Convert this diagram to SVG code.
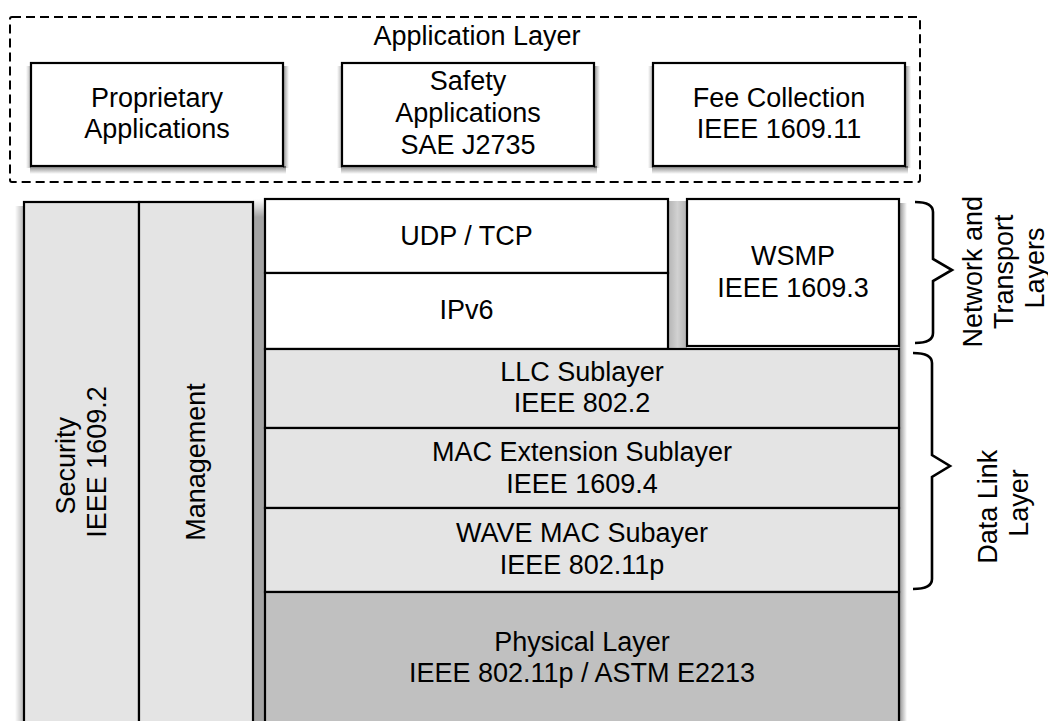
<svg xmlns="http://www.w3.org/2000/svg" width="1048" height="721" viewBox="0 0 1048 721">
  <style>
    .box { stroke: #000; stroke-width: 2.2; }
    .white { fill: #ffffff; }
    .light { fill: #e4e4e4; }
    .dark { fill: #c0c0c0; }
    .lbl { font-family: "Liberation Sans", Arial, Helvetica, sans-serif; font-size: 27px; fill: #000; text-anchor: middle; }
    .brace { fill: none; stroke: #000; stroke-width: 2.6; stroke-linejoin: miter; }
  </style>
  <defs>
    <!-- shadow ramps -->
    <linearGradient id="fadeL" x1="0" y1="0" x2="1" y2="0">
      <stop offset="0" stop-color="#000" stop-opacity="0"/>
      <stop offset="1" stop-color="#000" stop-opacity="0.3"/>
    </linearGradient>
    <linearGradient id="fadeR" x1="0" y1="0" x2="1" y2="0">
      <stop offset="0" stop-color="#000" stop-opacity="0.45"/>
      <stop offset="1" stop-color="#000" stop-opacity="0"/>
    </linearGradient>
    <linearGradient id="fadeD" x1="0" y1="0" x2="0" y2="1">
      <stop offset="0" stop-color="#000" stop-opacity="0.5"/>
      <stop offset="1" stop-color="#000" stop-opacity="0"/>
    </linearGradient>
    <linearGradient id="gapTop" x1="0" y1="0" x2="0" y2="1">
      <stop offset="0" stop-color="#000" stop-opacity="0"/>
      <stop offset="1" stop-color="#000" stop-opacity="0.36"/>
    </linearGradient>
    <linearGradient id="gapMid" x1="0" y1="0" x2="1" y2="0">
      <stop offset="0" stop-color="#000" stop-opacity="0.3"/>
      <stop offset="0.5" stop-color="#000" stop-opacity="0.18"/>
      <stop offset="1" stop-color="#000" stop-opacity="0.3"/>
    </linearGradient>
  </defs>

  <rect width="1048" height="721" fill="#ffffff"/>

  <!-- drop shadows under the boxes -->
  <g id="shadows">
    <rect x="30" y="166" width="256" height="8" fill="url(#fadeD)"/>
    <rect x="26" y="66" width="5" height="102" fill="url(#fadeL)"/>
    <rect x="283" y="66" width="6" height="102" fill="url(#fadeR)"/>
    <rect x="341" y="166" width="256" height="8" fill="url(#fadeD)"/>
    <rect x="337" y="66" width="5" height="102" fill="url(#fadeL)"/>
    <rect x="594" y="66" width="6" height="102" fill="url(#fadeR)"/>
    <rect x="652" y="166" width="256" height="8" fill="url(#fadeD)"/>
    <rect x="648" y="66" width="5" height="102" fill="url(#fadeL)"/>
    <rect x="905" y="66" width="6" height="102" fill="url(#fadeR)"/>

    <rect x="15" y="206" width="9" height="515" fill="url(#fadeL)"/>
    <rect x="253" y="199" width="12" height="18" fill="url(#gapTop)"/>
    <rect x="253" y="217" width="12" height="504" fill="#000" fill-opacity="0.36"/>
    <rect x="668" y="201" width="19" height="148" fill="url(#gapMid)"/>
    <rect x="899" y="203" width="8" height="518" fill="url(#fadeR)"/>
  </g>

  <!-- Application layer frame -->
  <g id="application-layer">
    <rect x="10" y="17" width="910" height="165" rx="2" fill="none" stroke="#000" stroke-width="2" stroke-dasharray="9,5"/>
    <text class="lbl" x="477" y="45">Application Layer</text>
  </g>

  <g id="proprietary-apps">
    <rect class="box white" x="31" y="63" width="252" height="103"/>
    <text class="lbl" x="157" y="107">Proprietary</text>
    <text class="lbl" x="157" y="138">Applications</text>
  </g>

  <g id="safety-apps">
    <rect class="box white" x="342" y="63" width="252" height="103"/>
    <text class="lbl" x="468" y="90">Safety</text>
    <text class="lbl" x="468" y="122">Applications</text>
    <text class="lbl" x="468" y="154">SAE J2735</text>
  </g>

  <g id="fee-collection">
    <rect class="box white" x="653" y="63" width="252" height="103"/>
    <text class="lbl" x="779" y="107">Fee Collection</text>
    <text class="lbl" x="779" y="138">IEEE 1609.11</text>
  </g>

  <!-- Vertical planes spanning the stack -->
  <g id="security">
    <rect class="box light" x="24" y="202" width="115" height="530"/>
    <text class="lbl" transform="translate(75,462) rotate(-90)">
      <tspan x="0" y="0">Security</tspan>
      <tspan x="0" y="31">IEEE 1609.2</tspan>
    </text>
  </g>
  <g id="management">
    <rect class="box light" x="139" y="202" width="114" height="530"/>
    <text class="lbl" transform="translate(205,462) rotate(-90)">Management</text>
  </g>

  <!-- Protocol stack -->
  <g id="udp-tcp">
    <rect class="box white" x="265" y="199" width="403" height="74"/>
    <text class="lbl" x="466.5" y="245">UDP / TCP</text>
  </g>
  <g id="ipv6">
    <rect class="box white" x="265" y="273" width="403" height="76"/>
    <text class="lbl" x="466.5" y="319">IPv6</text>
  </g>
  <g id="wsmp">
    <rect class="box white" x="687" y="199" width="212" height="147"/>
    <text class="lbl" x="793" y="265">WSMP</text>
    <text class="lbl" x="793" y="297">IEEE 1609.3</text>
  </g>
  <g id="llc">
    <rect class="box light" x="265" y="349" width="634" height="79"/>
    <text class="lbl" x="582" y="381">LLC Sublayer</text>
    <text class="lbl" x="582" y="412">IEEE 802.2</text>
  </g>
  <g id="mac-extension">
    <rect class="box light" x="265" y="428" width="634" height="80"/>
    <text class="lbl" x="582" y="461">MAC Extension Sublayer</text>
    <text class="lbl" x="582" y="493">IEEE 1609.4</text>
  </g>
  <g id="wave-mac">
    <rect class="box light" x="265" y="508" width="634" height="84"/>
    <text class="lbl" x="582" y="542">WAVE MAC Subayer</text>
    <text class="lbl" x="582" y="574">IEEE 802.11p</text>
  </g>
  <g id="physical">
    <rect class="box dark" x="265" y="592" width="634" height="140"/>
    <text class="lbl" x="582" y="651">Physical Layer</text>
    <text class="lbl" x="582" y="682">IEEE 802.11p / ASTM E2213</text>
  </g>

  <!-- Layer braces -->
  <g id="connectors">
    <path class="brace" d="M915,202 Q933,202 933,212 L933,259 L952,270 L933,281 L933,333 Q933,343 915,343"/>
    <path class="brace" d="M913,353 Q932,353 932,363 L932,455 L950,466 L932,477 L932,579 Q932,589 913,589"/>
  </g>

  <g id="network-transport-label">
    <text class="lbl" transform="translate(982,268) rotate(-90)">
      <tspan x="0" y="0">Network and</tspan>
      <tspan x="0" y="31">Transport</tspan>
      <tspan x="0" y="62">Layers</tspan>
    </text>
  </g>
  <g id="data-link-label">
    <text class="lbl" transform="translate(997,503) rotate(-90)">
      <tspan x="0" y="0">Data Link</tspan>
      <tspan x="0" y="31">Layer</tspan>
    </text>
  </g>
</svg>
